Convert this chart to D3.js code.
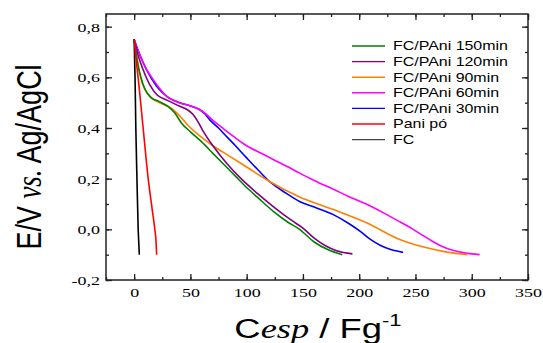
<!DOCTYPE html>
<html>
<head>
<meta charset="utf-8">
<script src="https://cdnjs.cloudflare.com/ajax/libs/d3/7.8.5/d3.min.js"></script>
<style>
  body { margin: 0; background: #fff; }
  svg { display: block; }
</style>
</head>
<body>
<script>
// tick values and labels
var xTicks = [0, 50, 100, 150, 200, 250, 300, 350];
var yTicks = [-0.2, 0, 0.2, 0.4, 0.6, 0.8];
var yTickLabels = ["-0,2", "0,0", "0,2", "0,4", "0,6", "0,8"];

// series (x = Cesp / Fg-1, y = E/V)
var capFC = [0, 0.8, 1.5, 2.5, 3.6, 4.2, 4.6];
var eFC = [0.75, 0.6, 0.4, 0.2, 0.0, -0.06, -0.1];

var capPani = [0, 2, 4, 8, 12.5, 16, 18.4, 19.5, 20];
var ePani = [0.75, 0.66, 0.58, 0.4, 0.2, 0.08, 0.0, -0.05, -0.1];

var cap30 = [0, 5, 11, 20, 29, 41, 50, 58, 63, 67, 75, 82, 90, 100, 110, 121, 135, 147, 160, 177, 190, 201, 210, 219, 228, 239];
var e30 = [0.75, 0.69, 0.63, 0.565, 0.525, 0.499, 0.487, 0.473, 0.455, 0.433, 0.4, 0.367, 0.33, 0.282, 0.235, 0.186, 0.143, 0.11, 0.088, 0.058, 0.025, -0.008, -0.04, -0.064, -0.08, -0.091];

var cap60 = [0, 4, 8, 17, 29, 41, 50, 58, 64, 70, 80, 88, 100, 112, 124, 136, 147, 160, 177, 190, 207, 222, 236, 248, 257, 265, 272, 280, 290, 300, 307];
var e60 = [0.75, 0.7, 0.657, 0.591, 0.525, 0.499, 0.487, 0.473, 0.455, 0.43, 0.395, 0.368, 0.33, 0.302, 0.275, 0.248, 0.222, 0.193, 0.158, 0.131, 0.098, 0.064, 0.03, 0.0, -0.025, -0.047, -0.064, -0.079, -0.09, -0.097, -0.1];

var cap90 = [0, 3, 7, 12, 18, 25, 33, 40, 48, 58, 70, 85, 100, 120, 147, 177, 207, 236, 260, 278, 296];
var e90 = [0.75, 0.66, 0.58, 0.535, 0.51, 0.495, 0.478, 0.45, 0.41, 0.37, 0.33, 0.288, 0.246, 0.19, 0.128, 0.078, 0.025, -0.04, -0.073, -0.09, -0.1];

var cap120 = [0, 4, 8, 14, 20, 29, 40, 48, 52, 56, 61, 70, 82, 95, 110, 125, 140, 150, 160, 170, 180, 194];
var e120 = [0.75, 0.68, 0.63, 0.57, 0.532, 0.51, 0.487, 0.47, 0.455, 0.43, 0.39, 0.33, 0.262, 0.2, 0.14, 0.085, 0.035, 0.005, -0.035, -0.065, -0.085, -0.097];

var cap150 = [0, 3, 6, 10, 15, 22, 30, 36, 42, 50, 60, 70, 80, 90, 100, 110, 124, 136, 147, 160, 172, 185];
var e150 = [0.75, 0.66, 0.6, 0.55, 0.52, 0.505, 0.485, 0.46, 0.42, 0.385, 0.345, 0.3, 0.255, 0.21, 0.165, 0.125, 0.07, 0.03, 0.0, -0.05, -0.08, -0.1];

var legendNames = ["FC/PAni 150min", "FC/PAni 120min", "FC/PAni 90min", "FC/PAni 60min", "FC/PAni 30min", "Pani pó", "FC"];
var legendColors = ["#008000", "#800080", "#ff8000", "#ff00ff", "#0000ff", "#ff0000", "#444444"];

// drawing order, back to front
var series = [
    {x: cap30, y: e30, color: "#0000ff"},
    {x: cap60, y: e60, color: "#ff00ff"},
    {x: cap90, y: e90, color: "#ff8000"},
    {x: cap120, y: e120, color: "#800080"},
    {x: cap150, y: e150, color: "#008000"},
    {x: capFC, y: eFC, color: "#000000"},
    {x: capPani, y: ePani, color: "#ff0000"}
];

// text in the picture is stretched sideways
var SX = 1.33;

var W = 543, H = 343;
var margin = {top: 14, right: 15, bottom: 63, left: 106};
var width = W - margin.left - margin.right,
    height = H - margin.top - margin.bottom;

var svg = d3.select('body').append('svg')
    .attr('width', W)
    .attr('height', H);

var g = svg.append('g')
    .attr('transform', 'translate(' + margin.left + ',' + margin.top + ')');

var xScale = d3.scaleLinear().domain([-25, 350]).range([0, width]);
var yScale = d3.scaleLinear().domain([-0.2, 0.85]).range([height, 0]);

var minorX = d3.range(-25, 351, 25);
var minorY = d3.range(-2, 9).map(function(d) { return d / 10; });

function styleAxis(sel) {
    sel.select('.domain').remove();
    sel.selectAll('line').attr('stroke', '#222').attr('stroke-width', 1.3);
}

// minor ticks on all sides
g.append('g').call(d3.axisLeft(yScale).tickValues(minorY).tickSize(-3).tickFormat('')).call(styleAxis);
g.append('g').attr('transform', 'translate(' + width + ',0)')
    .call(d3.axisRight(yScale).tickValues(minorY).tickSize(-3).tickFormat('')).call(styleAxis);
g.append('g').attr('transform', 'translate(0,' + height + ')')
    .call(d3.axisBottom(xScale).tickValues(minorX).tickSize(-3).tickFormat('')).call(styleAxis);
g.append('g').call(d3.axisTop(xScale).tickValues(minorX).tickSize(-3).tickFormat('')).call(styleAxis);

// major ticks
var yAxis = g.append('g')
    .call(d3.axisLeft(yScale).tickValues(yTicks).tickSize(-6).tickPadding(0)
        .tickFormat(function(d, i) { return yTickLabels[i]; }))
    .call(styleAxis);
var xAxis = g.append('g').attr('transform', 'translate(0,' + height + ')')
    .call(d3.axisBottom(xScale).tickValues(xTicks).tickSize(-6).tickPadding(0))
    .call(styleAxis);
g.append('g').attr('transform', 'translate(' + width + ',0)')
    .call(d3.axisRight(yScale).tickValues(yTicks).tickSize(-6).tickFormat('')).call(styleAxis);
g.append('g').call(d3.axisTop(xScale).tickValues(xTicks).tickSize(-6).tickFormat('')).call(styleAxis);

yAxis.selectAll('text')
    .attr('x', 0).attr('dy', '0.34em')
    .attr('transform', 'translate(-6,0) scale(' + SX + ',1)')
    .style('font-family', '"Liberation Serif", "Times New Roman", serif')
    .style('font-size', '13.5px').attr('fill', '#000');
xAxis.selectAll('text')
    .attr('y', 0).attr('dy', 0)
    .attr('transform', 'translate(0,17) scale(' + SX + ',1)')
    .style('font-family', '"Liberation Serif", "Times New Roman", serif')
    .style('font-size', '13.5px').attr('fill', '#000');

// frame
g.append('rect')
    .attr('width', width).attr('height', height)
    .attr('fill', 'none').attr('stroke', '#222').attr('stroke-width', 1.5);

// curves
var line = d3.line()
    .x(function(d) { return xScale(d[0]); })
    .y(function(d) { return yScale(d[1]); })
    .curve(d3.curveMonotoneX);

series.forEach(function(s) {
    var pts = s.x.map(function(v, i) { return [v, s.y[i]]; });
    g.append('path')
        .datum(pts)
        .attr('d', line)
        .attr('fill', 'none')
        .attr('stroke', s.color)
        .attr('stroke-width', 1.6);
});

// legend
var legend = svg.append('g').attr('transform', 'translate(352,46)');
legendNames.forEach(function(name, i) {
    var row = legend.append('g').attr('transform', 'translate(0,' + (i * 15.6) + ')');
    row.append('line')
        .attr('x1', 0).attr('x2', 33).attr('y1', 0).attr('y2', 0)
        .attr('stroke', legendColors[i]).attr('stroke-width', 1.4);
    row.append('text')
        .attr('transform', 'translate(41,0) scale(' + SX + ',1)')
        .attr('dy', '0.36em')
        .style('font-family', '"Liberation Sans", Arial, sans-serif')
        .style('font-size', '12px')
        .text(name);
});

// y label
var yl = svg.append('text')
    .attr('transform', 'translate(41,157) scale(' + SX + ',1) rotate(-90)')
    .attr('text-anchor', 'middle')
    .style('font-family', '"Liberation Sans", Arial, sans-serif')
    .style('font-size', '27px');
yl.append('tspan').text('E/V ');
yl.append('tspan').style('font-family', '"Liberation Serif", "Times New Roman", serif').style('font-style', 'italic').text('vs.');
yl.append('tspan').text(' Ag/AgCl');

// x label
var xl = svg.append('text')
    .attr('transform', 'translate(318,338) scale(1.3,1)')
    .attr('text-anchor', 'middle')
    .style('font-family', '"Liberation Sans", Arial, sans-serif')
    .style('font-size', '28px');
xl.append('tspan').text('C');
xl.append('tspan').style('font-family', '"Liberation Serif", "Times New Roman", serif').style('font-style', 'italic').text('esp');
xl.append('tspan').text(' / Fg');
xl.append('tspan').attr('dy', -12).style('font-size', '17px').text('-1');
</script>
</body>
</html>
